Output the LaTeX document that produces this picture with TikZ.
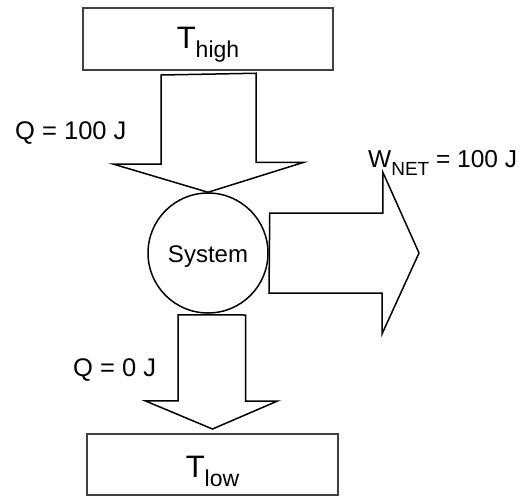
\documentclass[tikz,border=0pt]{standalone}
\usepackage{fontspec}
\setmainfont{Liberation Sans}
\usetikzlibrary{calc}

\tikzset{
  reservoir/.style={draw=black!75, line width=2pt, minimum width=250pt, minimum height=62pt, inner sep=0pt},
  pfeil/.style={draw=black, line width=1.5pt, line join=miter},
  wert/.style={anchor=base west, inner sep=0pt, font=\fontsize{25.5}{30}\selectfont},
}
\newcommand{\tname}[1]{{\fontsize{31}{31}\selectfont T}\raisebox{-9pt}{\fontsize{23}{23}\selectfont #1}}

\begin{document}
\begin{tikzpicture}[x=1pt,y=-1pt]
  \useasboundingbox (0,0) rectangle (524,496);

  % Reservoire
  \node[reservoir, text height=27pt, text depth=9pt] (thigh) at (208,39) {\tname{high}};
  \node[reservoir, minimum width=251pt, minimum height=61pt, text height=30pt, text depth=5pt] (tlow) at (212.5,464.5) {\tname{low}};

  % System
  \node[draw, circle, line width=1.5pt, minimum size=120pt, inner sep=0pt, text height=20pt, text depth=2pt,
        font=\fontsize{24}{28}\selectfont] (sys) at (208,253) {System};
  \coordinate (wnet) at (419,253);

  % Pfeile
  \draw[pfeil] ($(thigh.south)+(-47,4)$) -- ++(0,89) -- ++(-48,0) -- (sys.north)
    -- ++(96,-30) -- ++(-48,0) -- ++(0,-89) -- cycle;
  \draw[pfeil] ($(sys.east)+(1,-40)$) -- ++(113,0) -- ++(0,-41) -- (wnet)
    -- ++(-37,81) -- ++(0,-41) -- ++(-113,0) -- cycle;
  \draw[pfeil] ($(sys.south)+(-30,1)$) -- ++(0,86) -- ++(-33,0) -- ($(tlow.north)+(0,-4)$)
    -- ++(65,-28) -- ++(-32,0) -- ++(0,-86) -- cycle;

  % Beschriftungen
  \node[wert] (qin) at (15,139) {Q = 100 J};
  \node[wert] (qout) at (73,376) {Q = 0 J};
  \node[wert, font=\fontsize{24.5}{30}\selectfont] (w) at (368,167) {W\raisebox{-8pt}{\fontsize{19}{19}\selectfont NET} = 100 J};
\end{tikzpicture}
\end{document}
